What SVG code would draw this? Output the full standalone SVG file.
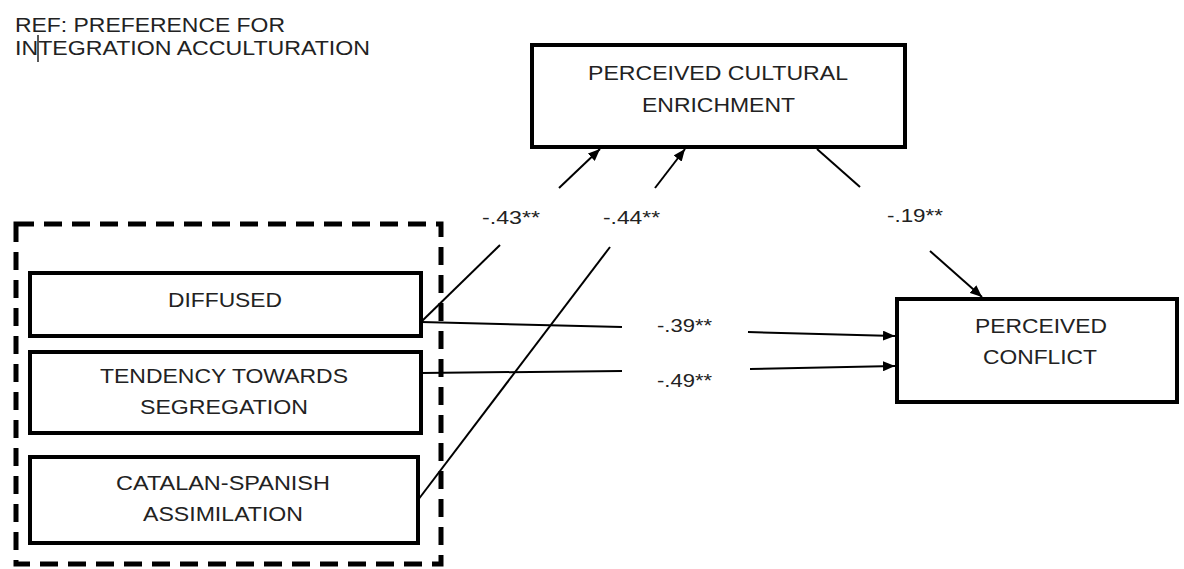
<svg xmlns="http://www.w3.org/2000/svg" width="1184" height="569" viewBox="0 0 1184 569">
<style>
  .t { font-family: "Liberation Sans", Arial, sans-serif; font-size: 20px; fill: #222; }
  .lbl { font-family: "Liberation Sans", Arial, sans-serif; font-size: 19px; fill: #222; }
  .box { fill: #fff; stroke: #000; stroke-width: 4; }
  .edge { fill: none; stroke: #000; stroke-width: 2; }
</style>
<defs>
  <marker id="arr" viewBox="0 0 12 10" refX="12" refY="5" markerWidth="12" markerHeight="10" markerUnits="userSpaceOnUse" orient="auto">
    <path d="M0,0 L12,5 L0,10 z" fill="#000"/>
  </marker>
</defs>
<rect width="1184" height="569" fill="#fff"/>

<g id="title">
  <text class="t" x="15" y="32" font-size="21" textLength="270" lengthAdjust="spacingAndGlyphs">REF: PREFERENCE FOR</text>
  <text class="t" x="15" y="55" font-size="21" textLength="355" lengthAdjust="spacingAndGlyphs">INTEGRATION ACCULTURATION</text>
  <line x1="38" y1="35" x2="38" y2="62" stroke="#222" stroke-width="1.5"/>
</g>

<g id="group-box">
  <rect x="16" y="224" width="425" height="340" fill="none" stroke="#000" stroke-width="5" stroke-dasharray="18 10"/>
</g>

<g id="connectors">
  <path class="edge" d="M421,322 L500,245"/>
  <path class="edge" d="M559,188 L600,149" marker-end="url(#arr)"/>
  <path class="edge" d="M418,500 L610,247"/>
  <path class="edge" d="M655,188 L685,149" marker-end="url(#arr)"/>
  <path class="edge" d="M817,149 L860,187"/>
  <path class="edge" d="M930,251 L982,297" marker-end="url(#arr)"/>
  <path class="edge" d="M421,322 L622,327"/>
  <path class="edge" d="M748,332 L895,336" marker-end="url(#arr)"/>
  <path class="edge" d="M421,373 L622,371"/>
  <path class="edge" d="M750,369 L895,366" marker-end="url(#arr)"/>
</g>

<g id="labels">
  <text class="lbl" x="482" y="224" textLength="58" lengthAdjust="spacingAndGlyphs">-.43**</text>
  <text class="lbl" x="603" y="224" textLength="57" lengthAdjust="spacingAndGlyphs">-.44**</text>
  <text class="lbl" x="887" y="222" textLength="56" lengthAdjust="spacingAndGlyphs">-.19**</text>
  <text class="lbl" x="657" y="332" textLength="55" lengthAdjust="spacingAndGlyphs">-.39**</text>
  <text class="lbl" x="657" y="387" textLength="55" lengthAdjust="spacingAndGlyphs">-.49**</text>
</g>

<g id="enrichment">
  <rect class="box" x="532" y="45" width="373" height="102"/>
  <text class="t" x="588" y="80" textLength="260" lengthAdjust="spacingAndGlyphs">PERCEIVED CULTURAL</text>
  <text class="t" x="642" y="112" textLength="153" lengthAdjust="spacingAndGlyphs">ENRICHMENT</text>
</g>

<g id="diffused">
  <rect class="box" x="30" y="273" width="391" height="63"/>
  <text class="t" x="168" y="307" textLength="114" lengthAdjust="spacingAndGlyphs">DIFFUSED</text>
</g>

<g id="segregation">
  <rect class="box" x="30" y="352" width="391" height="81"/>
  <text class="t" x="100" y="383" textLength="248" lengthAdjust="spacingAndGlyphs">TENDENCY TOWARDS</text>
  <text class="t" x="140" y="414" textLength="168" lengthAdjust="spacingAndGlyphs">SEGREGATION</text>
</g>

<g id="assimilation">
  <rect class="box" x="30" y="457" width="388" height="86"/>
  <text class="t" x="116" y="490" textLength="214" lengthAdjust="spacingAndGlyphs">CATALAN-SPANISH</text>
  <text class="t" x="143" y="521" textLength="160" lengthAdjust="spacingAndGlyphs">ASSIMILATION</text>
</g>

<g id="conflict">
  <rect class="box" x="897" y="299" width="280" height="103"/>
  <text class="t" x="975" y="333" textLength="132" lengthAdjust="spacingAndGlyphs">PERCEIVED</text>
  <text class="t" x="983" y="364" textLength="114" lengthAdjust="spacingAndGlyphs">CONFLICT</text>
</g>
</svg>
